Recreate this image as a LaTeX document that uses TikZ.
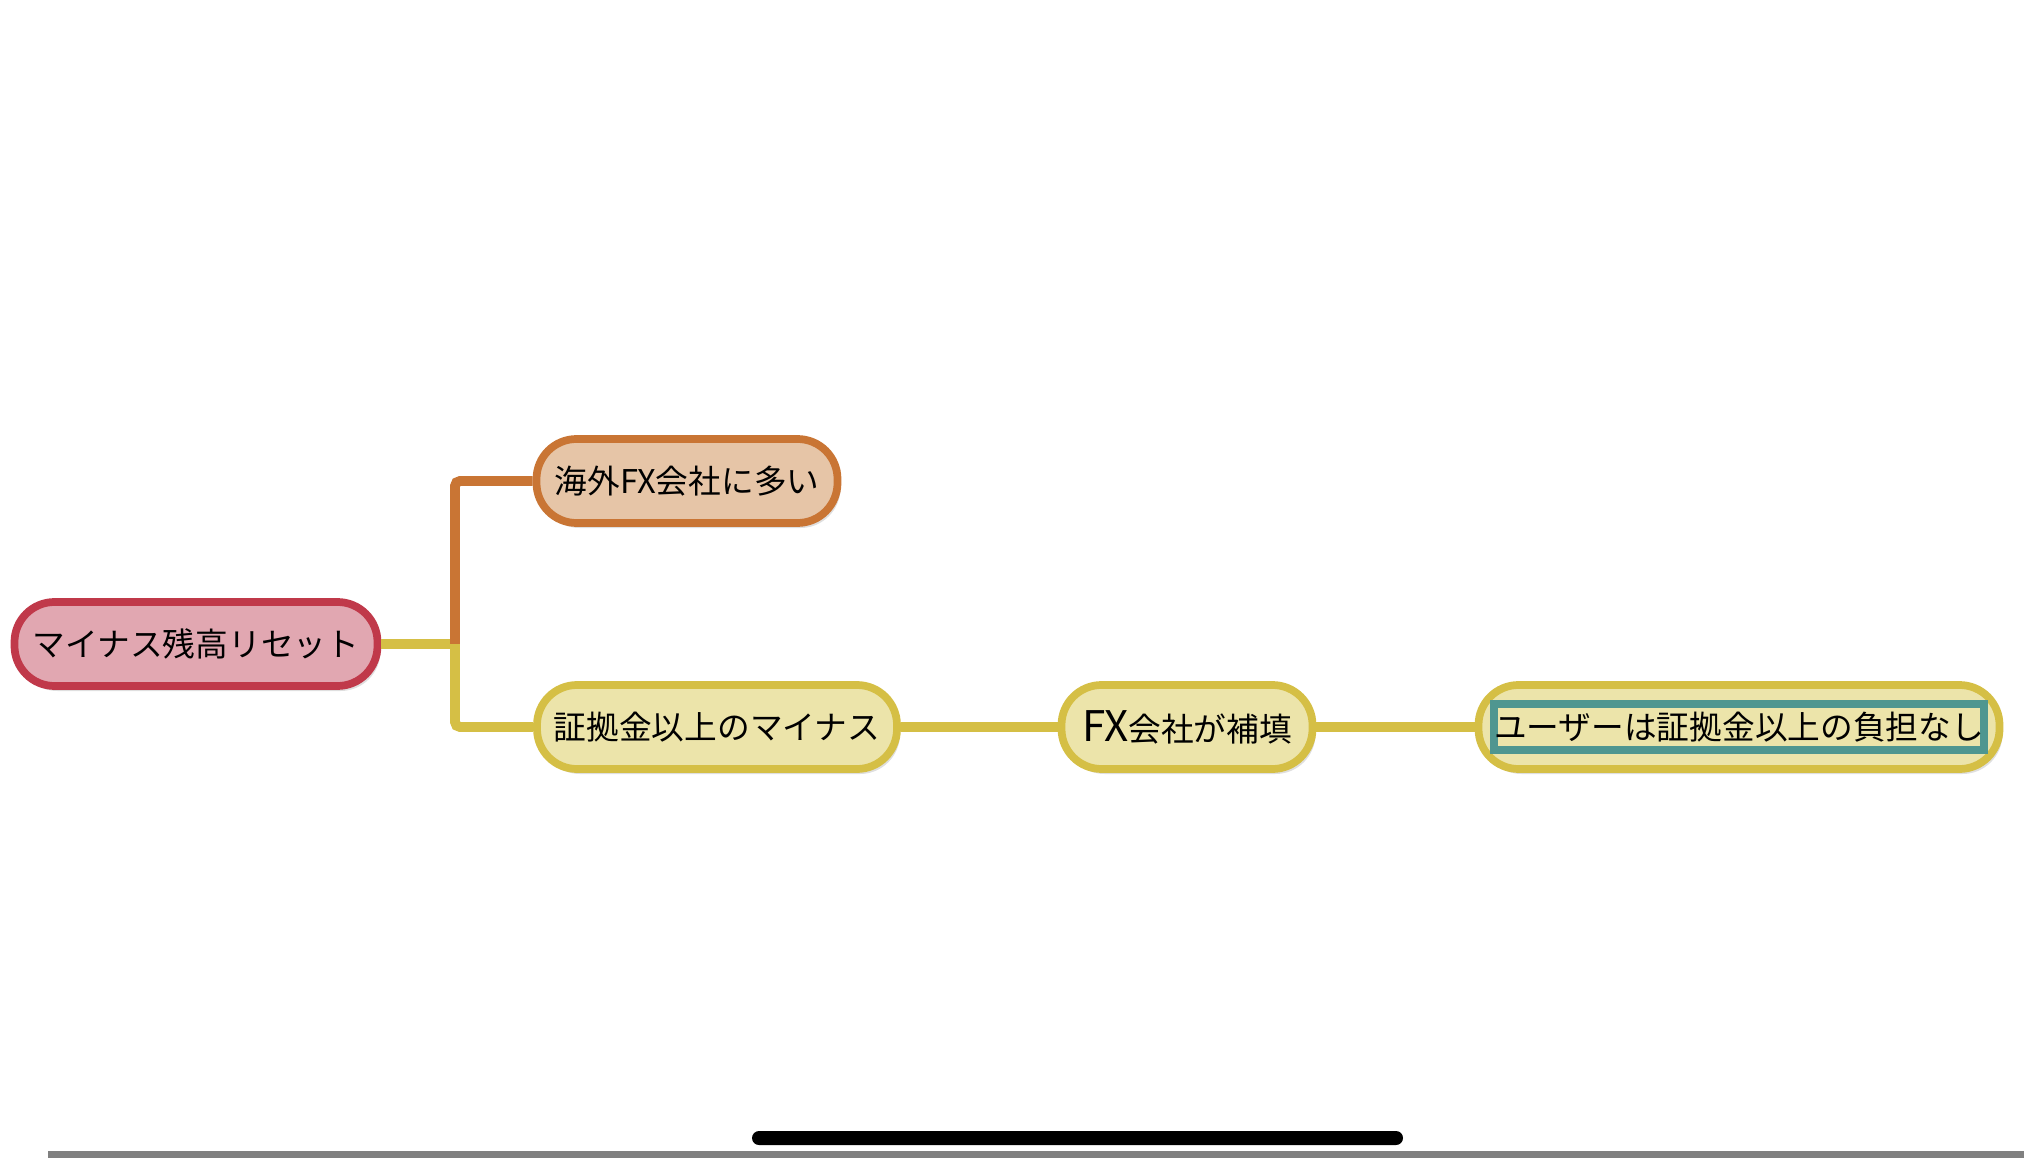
\documentclass[tikz,border=0pt]{standalone}
\usepackage{fontspec}
\newfontfamily\jpfont{Noto Sans CJK JP}
\usetikzlibrary{positioning,shadows}
\definecolor{rootfill}{HTML}{E1A7B1}
\definecolor{rootline}{HTML}{C0394A}
\definecolor{orfill}{HTML}{E6C5A7}
\definecolor{orline}{HTML}{C97534}
\definecolor{yefill}{HTML}{ECE4AA}
\definecolor{yeline}{HTML}{D5BF45}
\definecolor{tealline}{HTML}{4F9690}

\begin{document}
\begin{tikzpicture}[font=\jpfont\fontsize{9.3}{11}\selectfont,
                    topic/.style={rounded corners=0.4cm,line width=2.2pt,
                      minimum height=0.84cm,inner sep=0pt,
                      drop shadow={opacity=0.25,shadow xshift=0.03cm,shadow yshift=-0.05cm}},
                    link/.style={line width=2.8pt,rounded corners=0.05cm}]
  \useasboundingbox (0,0) rectangle (20.24,-11.58);

  \node[topic,draw=rootline,fill=rootfill,minimum width=3.63cm] (R) at (1.96,-6.44) {マイナス残高リセット};
  \node[topic,draw=orline,fill=orfill,minimum width=3.01cm]    (A) at (6.87,-4.81) {海外FX会社に多い};
  \node[topic,draw=yeline,fill=yefill,minimum width=3.60cm]    (B) at (7.17,-7.27) {証拠金以上のマイナス};
  \node[topic,draw=yeline,fill=yefill,minimum width=2.51cm]    (C) at (11.87,-7.27) {{\fontsize{12}{12}\selectfont FX}会社が補填};
  \node[topic,draw=yeline,fill=yefill,minimum width=5.21cm]    (D) at (17.39,-7.27) {};
  \node[draw=tealline,line width=2.2pt,minimum width=4.88cm,minimum height=0.46cm,
        inner sep=0pt] (Dt) at (D) {ユーザーは証拠金以上の負担なし};

  \coordinate (J) at (4.55,-6.44);

  \begin{scope}[on background layer/.try]
  \draw[link,yeline] (R.east) -- (J);
  \draw[link,orline] (J) |- (A.west);
  \draw[link,yeline] (J) |- (B.west);
  \draw[link,yeline] (B.east) -- (C.west);
  \draw[link,yeline] (C.east) -- (D.west);
  \end{scope}

  % bottom bars
  \fill[black,rounded corners=0.07cm] (7.52,-11.31) rectangle (14.03,-11.45);
  \fill[gray] (0.48,-11.51) rectangle (20.24,-11.58);
\end{tikzpicture}
\end{document}
